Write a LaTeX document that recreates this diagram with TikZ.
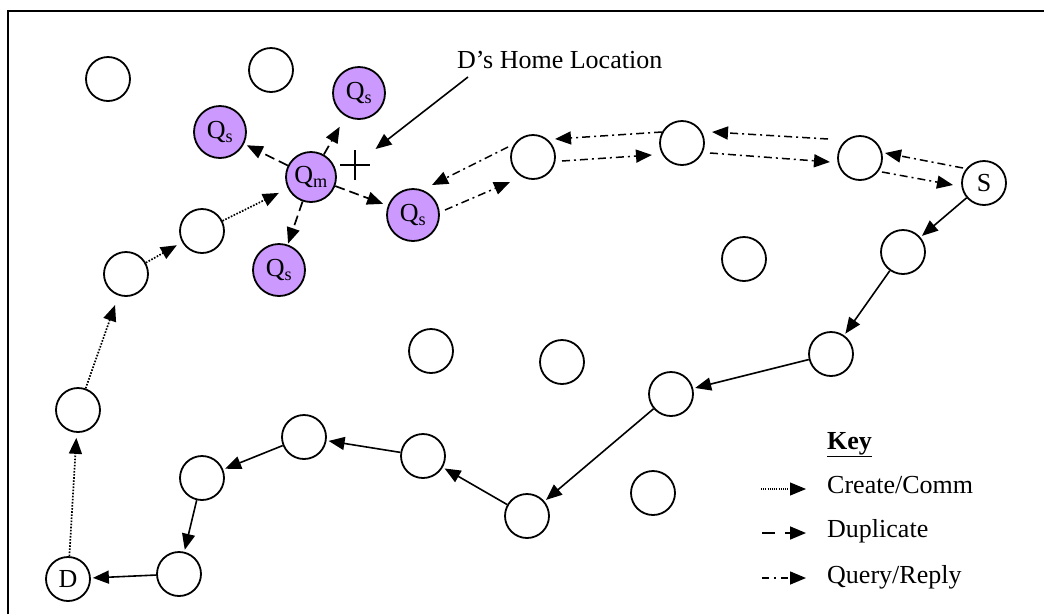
\documentclass[tikz,border=0pt]{standalone}
\usepackage{fontspec}
\setmainfont{Liberation Serif}
\usetikzlibrary{arrows.meta,calc}
\definecolor{qpurple}{RGB}{204,153,255}
\begin{document}
\begin{tikzpicture}[x=1pt,y=-1pt,
  every node/.style={font=\fontsize{26}{30}\selectfont},
  wnode/.style={circle,draw,line width=1.8pt,minimum size=44pt,inner sep=0pt,fill=white},
  qnode/.style={circle,draw,line width=1.8pt,minimum size=52pt,inner sep=0pt,fill=qpurple},
  arrhead/.style={-{Triangle[length=16pt,width=13pt]}},
  solidarr/.style={arrhead,line width=1.6pt,shorten >=2pt},
  dotarr/.style={arrhead,line width=1.7pt,dash pattern=on 1.6pt off 1.5pt,shorten >=6pt},
  duparr/.style={arrhead,line width=1.7pt,dash pattern=on 10pt off 5pt},
  qryarr/.style={arrhead,line width=1.5pt,dash pattern=on 8pt off 4pt on 2pt off 4pt},
  keytext/.style={anchor=base west,inner sep=0pt}
]
\useasboundingbox (0,0) rectangle (1044,614);
\draw[line width=2pt,line join=miter] (8,614) -- (8,11) -- (1044,11);

% nodes
\node[wnode] (w1) at (108,79) {};
\node[wnode] (w2) at (271,70) {};
\node[wnode] (n533) at (533,157) {};
\node[wnode] (n682) at (682,143) {};
\node[wnode] (n860) at (860,158) {};
\node[wnode] (S) at (984,183) {S};
\node[wnode] (n903) at (903,252) {};
\node[wnode] (n744) at (744,259) {};
\node[wnode] (n831) at (831,354) {};
\node[wnode] (n671) at (671,394) {};
\node[wnode] (n527) at (527,516) {};
\node[wnode] (n653) at (653,493) {};
\node[wnode] (n562) at (562,362) {};
\node[wnode] (n431) at (431,351) {};
\node[wnode] (n423) at (423,456) {};
\node[wnode] (n304) at (304,437) {};
\node[wnode] (n202b) at (202,478) {};
\node[wnode] (n179) at (179,574) {};
\node[wnode] (D) at (68,579) {D};
\node[wnode] (n78) at (78,410) {};
\node[wnode] (n126) at (126,274) {};
\node[wnode] (n202) at (202,231) {};
\node[qnode,minimum size=50pt] (Qm) at (311,177) {Q\textsubscript{m}};
\node[qnode] (QsT) at (359,93) {Q\textsubscript{s}};
\node[qnode] (QsL) at (220,132) {Q\textsubscript{s}};
\node[qnode] (QsR) at (413,215) {Q\textsubscript{s}};
\node[qnode] (QsB) at (279,270) {Q\textsubscript{s}};

% home location
\node[keytext] (home) at (457,68) {D’s Home Location};
\coordinate (homestart) at (468,77);
\coordinate (plus) at (355,165);
\draw[line width=1.6pt] ([xshift=-15pt]plus) -- ([xshift=15pt]plus)
  ([yshift=-15pt]plus) -- ([yshift=15pt]plus);
\draw[solidarr,shorten >=26pt] (homestart) -- (plus);

% solid path
\draw[solidarr] (S) -- (n903);
\draw[solidarr] (n903) -- (n831);
\draw[solidarr] (n831) -- (n671);
\draw[solidarr] (n671) -- (n527);
\draw[solidarr] (n527) -- (n423);
\draw[solidarr] (n423) -- (n304);
\draw[solidarr] (n304) -- (n202b);
\draw[solidarr] (n202b) -- (n179);
\draw[solidarr] (n179) -- (D);

% dotted path
\draw[dotarr,shorten >=5pt] (D) -- (n78);
\draw[dotarr,shorten >=10pt] (n78) -- (n126);
\draw[dotarr,shorten >=6pt] (n126) -- (n202);
\draw[dotarr,shorten >=10pt] (n202) -- (Qm);

% duplicates
\draw[duparr,shorten >=12pt] (Qm) -- (QsT);
\draw[duparr,shorten >=3pt] (Qm) -- (QsL);
\draw[duparr,shorten >=5pt] (Qm) -- (QsR);
\draw[duparr,shorten >=1pt] (Qm) -- (QsB);

% query / reply
\draw[qryarr] ($(S)+(-21,-15)$) -- ($(n860)+(25,-5)$);
\draw[qryarr] ($(n860)+(22,14)$) -- ($(S)+(-31,2)$);
\draw[qryarr] ($(n860)+(-32,-19)$) -- ($(n682)+(30,-11)$);
\draw[qryarr] ($(n682)+(28,10)$) -- ($(n860)+(-30,4)$);
\draw[qryarr] ($(n682)+(-20,-11)$) -- ($(n533)+(22,-18)$);
\draw[qryarr] ($(n533)+(29,4)$) -- ($(n682)+(-30,12)$);
\draw[qryarr] ($(n533)+(-25,-10)$) -- ($(QsR)+(19,-30)$);
\draw[qryarr] ($(QsR)+(32,-5)$) -- ($(n533)+(-23,25)$);

% key
\node[keytext] (keyt) at (827,449) {\underline{\textbf{Key}}};
\node[keytext] (kt1) at (827,493) {Create/Comm};
\node[keytext] (kt2) at (827,537) {Duplicate};
\node[keytext] (kt3) at (827,583) {Query/Reply};
\coordinate (k1a) at (761,489); \coordinate (k1b) at (806,489);
\coordinate (k2a) at (762,533); \coordinate (k2b) at (806,533);
\coordinate (k3a) at (762,578); \coordinate (k3b) at (806,578);
\draw[dotarr,shorten >=0pt,line width=1.1pt,dash pattern=on 1pt off 1.2pt] (k1a) -- (k1b);
\draw[duparr,dash pattern=on 13pt off 10pt] (k2a) -- (k2b);
\draw[qryarr,dash pattern=on 7pt off 5pt on 2pt off 5pt] (k3a) -- (k3b);
\end{tikzpicture}
\end{document}
